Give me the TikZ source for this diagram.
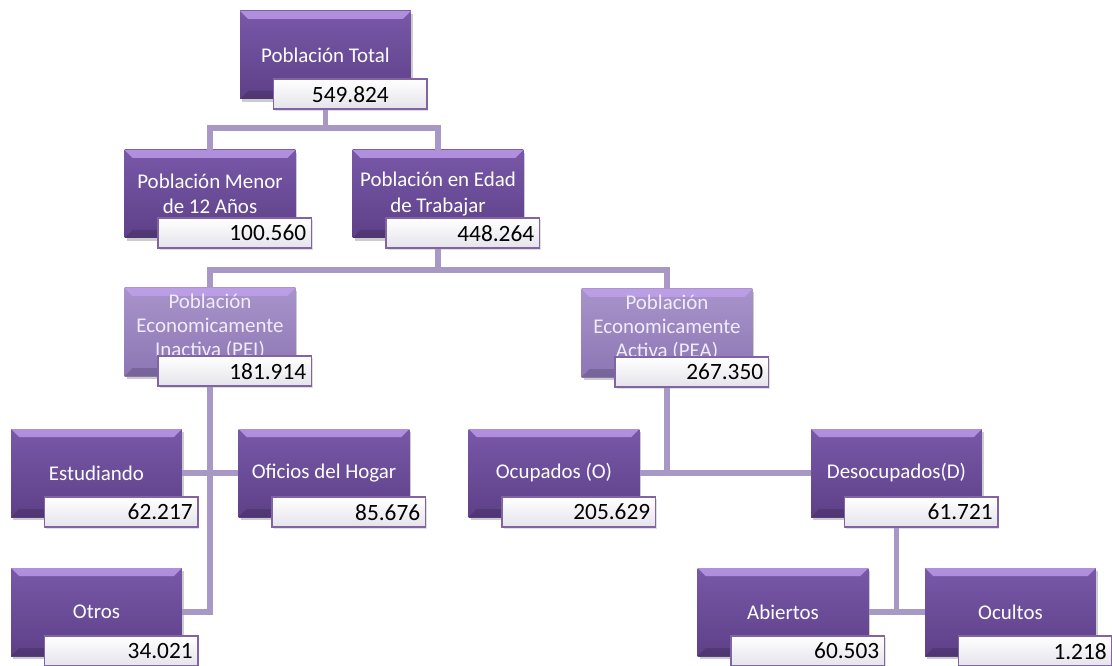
\documentclass[tikz,border=0pt]{standalone}
\usepackage{fontspec}
\setmainfont{Carlito}
\usetikzlibrary{positioning,calc,shadows}
\tikzset{>=stealth}

\definecolor{boxtop}{RGB}{120,88,168}
\definecolor{boxbot}{RGB}{94,64,136}
\definecolor{bevel}{RGB}{196,162,240}
\definecolor{paletop}{RGB}{168,148,202}
\definecolor{palebot}{RGB}{140,118,180}
\definecolor{paletext}{RGB}{240,235,250}
\definecolor{valedge}{RGB}{128,100,164}
\definecolor{valbot}{RGB}{228,227,234}
\definecolor{linkcol}{RGB}{168,152,198}

\tikzset{
  orgbox/.style={minimum width=128pt,minimum height=66pt,inner sep=2pt,
    align=center,text=white,font=\fontsize{15.7}{18.8}\selectfont,
    top color=boxtop,bottom color=boxbot,
    drop shadow={shadow xshift=1.5pt,shadow yshift=-2pt,opacity=0.4},
    path picture={
      \fill[bevel,opacity=0.75] (path picture bounding box.north west)
        -- (path picture bounding box.north east)
        -- ([xshift=-6pt,yshift=-6pt]path picture bounding box.north east)
        -- ([xshift=6pt,yshift=-6pt]path picture bounding box.north west) -- cycle;
      \fill[black,opacity=0.15] (path picture bounding box.south west)
        -- (path picture bounding box.south east)
        -- ([xshift=-6pt,yshift=6pt]path picture bounding box.south east)
        -- ([xshift=6pt,yshift=6pt]path picture bounding box.south west) -- cycle;
    }},
  % three-line boxes: text a bit higher, above the value box
  palebox/.style={orgbox,top color=paletop,bottom color=palebot,text=paletext,
    font=\fontsize{15.7}{18}\selectfont,text depth=10pt},
  valbox/.style={draw=valedge,line width=1.1pt,top color=white,bottom color=valbot,
    minimum height=22.5pt,text width=107pt,inner xsep=4pt,inner ysep=0pt,
    align=right,text=black,font=\fontsize{17.5}{20}\selectfont,anchor=south east,
    drop shadow={shadow xshift=1pt,shadow yshift=-1.5pt,opacity=0.25}},
  link/.style={draw=linkcol,line width=3.8pt}
}

\begin{document}
\begin{tikzpicture}[x=0.75pt,y=-0.75pt]
% Frame of the page
\useasboundingbox (0,0) rectangle (1112,666);

% Top box
\node[orgbox] (tot) at (325.5,55) {Población Total};
\node[valbox,align=center] (totv) at ([xshift=12.5pt,yshift=-8pt]tot.south east) {549.824};

% Second row
\node[orgbox] (men) at (210,194) {Población Menor\\de 12 Años};
\node[valbox] (menv) at ([xshift=12.5pt,yshift=-8pt]men.south east) {100.560};
\node[orgbox] (edad) at (438,194) {Población en Edad\\de Trabajar};
\node[valbox] (edadv) at ([xshift=12.5pt,yshift=-8pt]edad.south east) {448.264};

% Third row
\node[palebox] (pei) at (210,332) {Población\\Economicamente\\Inactiva (PEI)};
\node[valbox] (peiv) at ([xshift=12.5pt,yshift=-8pt]pei.south east) {181.914};
\node[palebox] (pea) at (667,333) {Población\\Economicamente\\Activa (PEA)};
\node[valbox] (peav) at ([xshift=12.5pt,yshift=-8pt]pea.south east) {267.350};

% Fourth row
\node[orgbox] (est) at (96.5,473) {Estudiando};
\node[valbox] (estv) at ([xshift=12.5pt,yshift=-8pt]est.south east) {62.217};
\node[orgbox] (ofi) at (324,473) {Oficios del Hogar};
\node[valbox] (ofiv) at ([xshift=12.5pt,yshift=-8pt]ofi.south east) {85.676};
\node[orgbox] (ocu) at (554,473) {Ocupados (O)};
\node[valbox] (ocuv) at ([xshift=12.5pt,yshift=-8pt]ocu.south east) {205.629};
\node[orgbox] (des) at (896.5,473) {Desocupados(D)};
\node[valbox] (desv) at ([xshift=12.5pt,yshift=-8pt]des.south east) {61.721};

% Bottom row
\node[orgbox] (otr) at (96.5,612) {Otros};
\node[valbox] (otrv) at ([xshift=12.5pt,yshift=-8pt]otr.south east) {34.021};
\node[orgbox] (abi) at (783,612) {Abiertos};
\node[valbox] (abiv) at ([xshift=12.5pt,yshift=-8pt]abi.south east) {60.503};
\node[orgbox] (ocl) at (1010.5,612) {Ocultos};
\node[valbox] (oclv) at ([xshift=12.5pt,yshift=-8pt]ocl.south east) {1.218};

% Junctions of the upper links
\coordinate (j1) at (324,128);
\coordinate (j2) at (440,270);

% Links
\draw[link] (tot.south |- totv.south) -- (tot.south |- j1);
\draw[link] (men.north) -- (men.north |- j1) -- (edad.north |- j1) -- (edad.north);
\draw[link] (edad.south |- edadv.south) -- (edad.south |- j2);
\draw[link] (pei.north) -- (pei.north |- j2) -- (pea.north |- j2) -- (pea.north);
\draw[link] (pei.south |- peiv.south) -- (pei.south |- otr.east) -- (otr.east);
\draw[link] (est.east) -- (ofi.west);
\draw[link] (pea.south |- peav.south) -- (pea.south |- ocu.east);
\draw[link] (ocu.east) -- (des.west);
\draw[link] (des.south |- desv.south) -- (des.south |- abi.east);
\draw[link] (abi.east) -- (ocl.west);
\end{tikzpicture}
\end{document}
